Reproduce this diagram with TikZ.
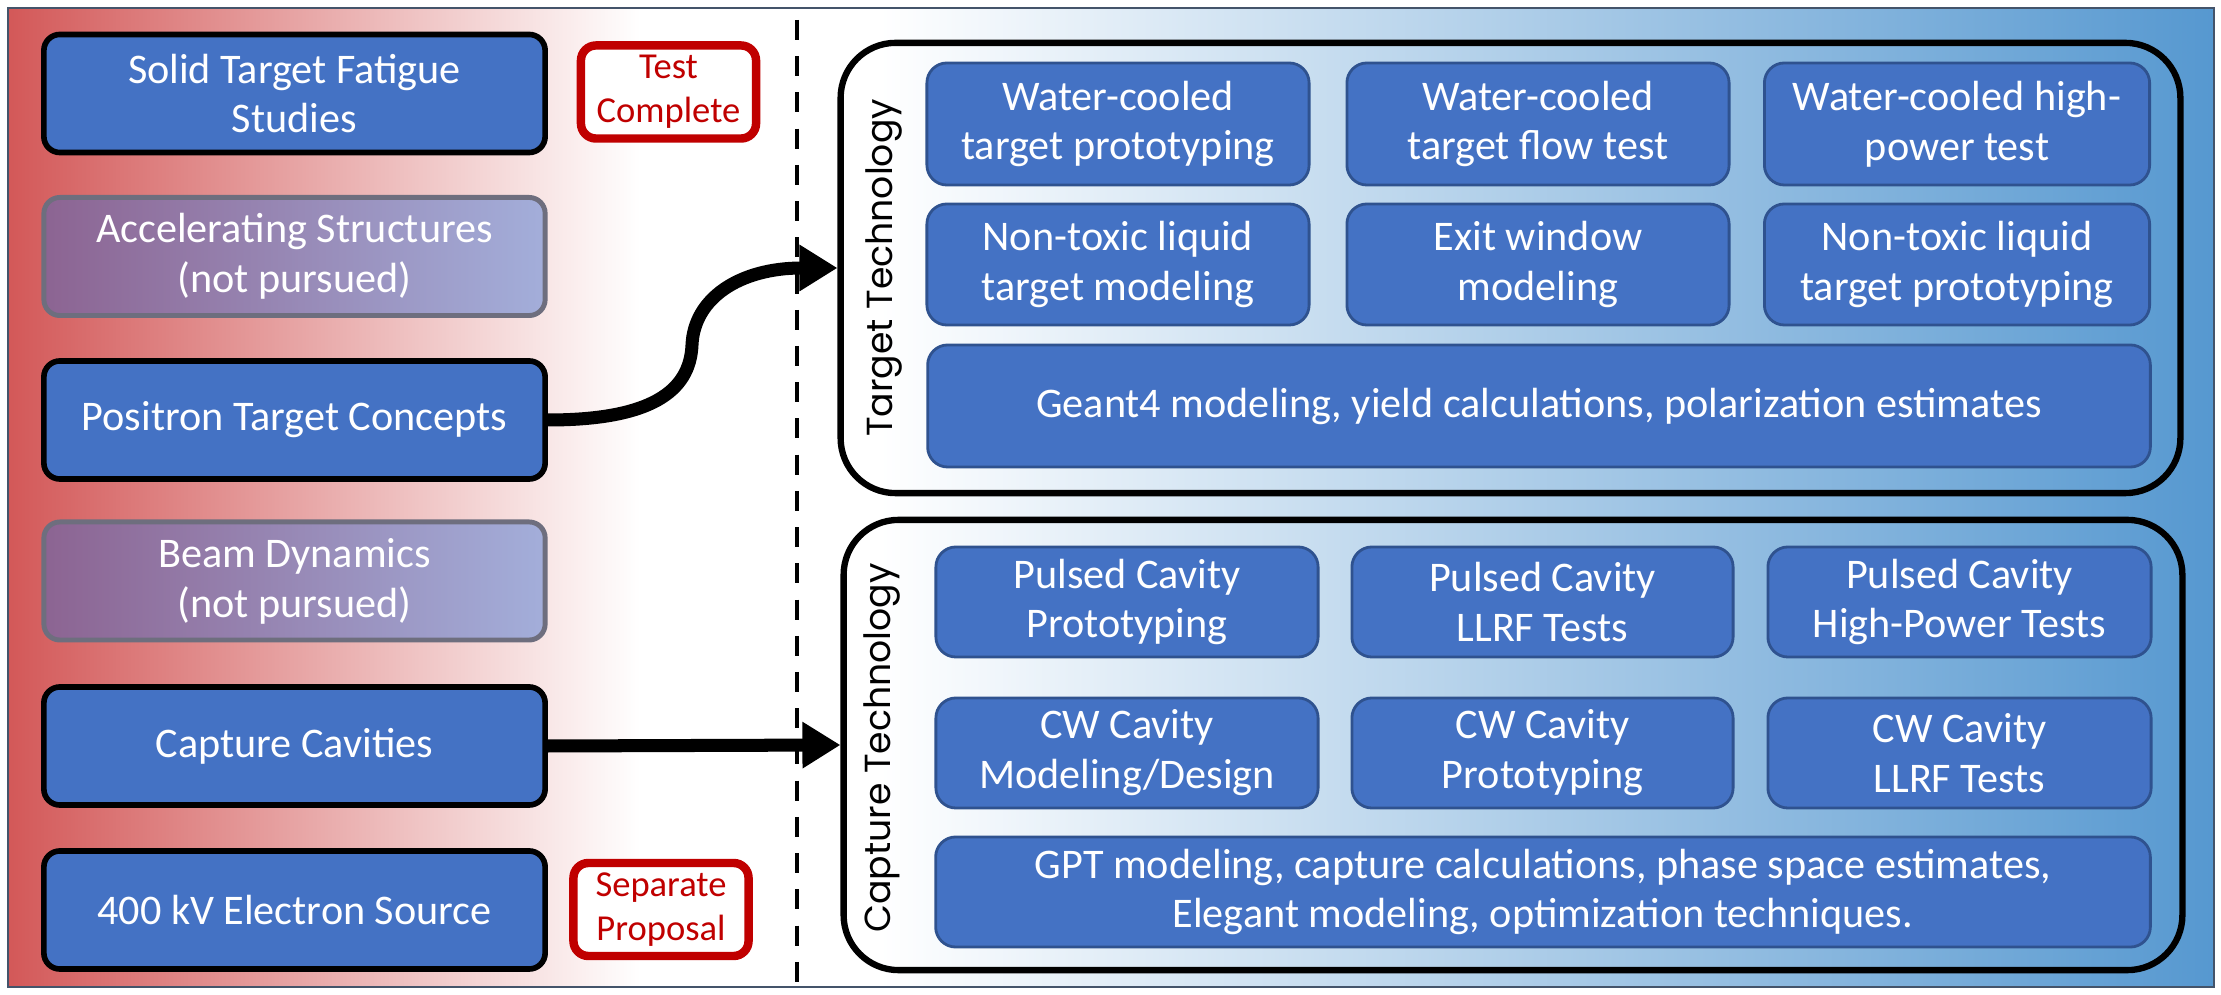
\documentclass[tikz,border=0pt]{standalone}
\usepackage{fontspec}
\setmainfont{Carlito}
\newfontfamily\gothicfont{Poppins}
\usetikzlibrary{arrows.meta}
\definecolor{boxblue}{HTML}{4472C4}
\definecolor{boxnavy}{HTML}{2F528F}
\definecolor{stampred}{HTML}{C00000}
\definecolor{bgred}{HTML}{D35858}
\definecolor{bgblue}{HTML}{5698D0}
\definecolor{npleft}{HTML}{8C6492}
\definecolor{npright}{HTML}{A3AEDA}
\definecolor{npborder}{HTML}{6E6E7E}
\definecolor{frameblue}{HTML}{44546A}
\begin{document}
\begin{tikzpicture}[x=0.01cm,y=-0.01cm,
  txt/.style={font=\fontsize{12}{14.2}\selectfont, text=white, align=center},
  lbox/.style={txt, rounded corners=0.16cm, draw=black, line width=1.6pt, fill=boxblue,
    minimum width=5.01cm, minimum height=1.18cm, inner sep=0pt},
  npbox/.style={txt, rounded corners=0.16cm, draw=npborder, line width=1.4pt,
    left color=npleft, right color=npright, minimum width=5.01cm, minimum height=1.18cm, inner sep=0pt},
  stamp/.style={rounded corners=0.15cm, draw=stampred, line width=2.4pt, fill=white, text=stampred,
    font=\fontsize{10.4}{12.4}\selectfont, align=center, minimum width=1.75cm, minimum height=0.93cm, inner sep=0pt},
  panel/.style={rounded corners=0.55cm, draw=black, line width=1.8pt, inner sep=0pt},
  ibox/.style={txt, rounded corners=0.2cm, draw=boxnavy, line width=0.8pt, fill=boxblue, inner sep=0pt},
  sidelabel/.style={rotate=90, font=\gothicfont\fontsize{10.3}{12}\selectfont, text=black},
  conn/.style={line width=3.7pt, -{Triangle[length=0.38cm,width=0.44cm]}},
  divider/.style={line width=1.4pt, dash pattern=on 5.7pt off 4.6pt}
]
\useasboundingbox (0,0) rectangle (2221,995);
% background
\fill[white] (0,0) rectangle (2221,995);
\shade[left color=bgred, right color=white] (8,8) rectangle (640,987);
\shade[left color=white, right color=bgblue] (880,8) rectangle (2214,987);
\draw[frameblue, line width=0.7pt] (8,8) rectangle (2214,987);
% divider
\draw[divider] (797,20) -- (797,982);

% left column
\node[lbox]  (b1) at (294.5,93.5) {Solid Target Fatigue\\Studies};
\node[npbox] (b2) at (294.5,256.5) {Accelerating Structures\\(not pursued)};
\node[lbox]  (b3) at (294.5,420) {Positron Target Concepts};
\node[npbox] (b4) at (294.5,581) {Beam Dynamics\\(not pursued)};
\node[lbox]  (b5) at (294.5,746) {Capture Cavities};
\node[lbox]  (b6) at (294.5,910) {400 kV Electron Source};

\node[stamp] (s1) at (668.5,92) {Test\\Complete};
\node[stamp] (s2) at (661,909.5) {Separate\\Proposal};

% panels
\node[panel, minimum width=13.39cm, minimum height=4.50cm] (tp) at (1510.5,268) {};
\node[panel, minimum width=13.38cm, minimum height=4.50cm] (cp) at (1513,745) {};
\node[sidelabel] (tl) at (884,268) {Target Technology};
\node[sidelabel] (cl) at (882,748) {Capture Technology};

% target technology boxes
\node[ibox, minimum width=3.82cm, minimum height=1.22cm] (t11) at (1118,124) {Water-cooled\\target prototyping};
\node[ibox, minimum width=3.82cm, minimum height=1.22cm] (t12) at (1538,124) {Water-cooled\\target flow test};
\node[ibox, minimum width=3.85cm, minimum height=1.22cm] (t13) at (1957,124) {Water-cooled high-\\power test};
\node[ibox, minimum width=3.82cm, minimum height=1.21cm] (t21) at (1118,264.5) {Non-toxic liquid\\target modeling};
\node[ibox, minimum width=3.82cm, minimum height=1.21cm] (t22) at (1538,264.5) {Exit window\\modeling};
\node[ibox, minimum width=3.85cm, minimum height=1.21cm] (t23) at (1957,264.5) {Non-toxic liquid\\target prototyping};
\node[ibox, minimum width=12.22cm, minimum height=1.22cm] (t3) at (1539,406) {Geant4 modeling, yield calculations, polarization estimates};

% capture technology boxes
\node[ibox, minimum width=3.82cm, minimum height=1.10cm] (c11) at (1127,602) {Pulsed Cavity\\Prototyping};
\node[ibox, minimum width=3.81cm, minimum height=1.10cm] (c12) at (1542.5,602) {Pulsed Cavity\\LLRF Tests};
\node[ibox, minimum width=3.83cm, minimum height=1.10cm] (c13) at (1959.5,602) {Pulsed Cavity\\High-Power Tests};
\node[ibox, minimum width=3.82cm, minimum height=1.10cm] (c21) at (1127,753) {CW Cavity\\Modeling/Design};
\node[ibox, minimum width=3.81cm, minimum height=1.10cm] (c22) at (1542.5,753) {CW Cavity\\Prototyping};
\node[ibox, minimum width=3.83cm, minimum height=1.10cm] (c23) at (1959.5,753) {CW Cavity\\LLRF Tests};
\node[ibox, minimum width=12.14cm, minimum height=1.10cm] (c3) at (1543,892) {GPT modeling, capture calculations, phase space estimates,\\Elegant modeling, optimization techniques.};

% connectors
\coordinate (bend) at (692,345);
\draw[conn] (b3.east) .. controls (650,420) and (690,392) .. (bend)
  .. controls (694,298) and (740,268) .. (tp.west);
\draw[conn] (b5.east) -- (cp.west);
\end{tikzpicture}
\end{document}
